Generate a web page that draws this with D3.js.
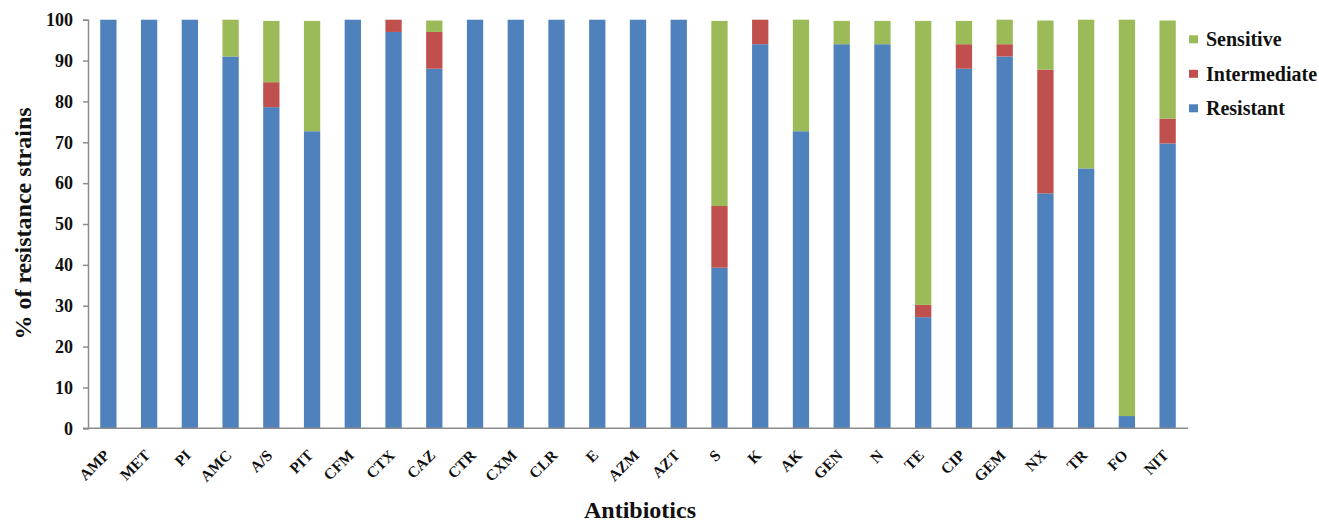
<!DOCTYPE html>
<html>
<head>
<meta charset="utf-8">
<script src="https://cdn.jsdelivr.net/npm/d3@7"></script>
<style>
  html, body { margin: 0; padding: 0; background: #fff; }
  svg { display: block; }
  text { font-family: "Liberation Serif", "Times New Roman", serif; font-weight: bold; fill: #111; }
</style>
</head>
<body>
<svg id="chart" width="1319" height="525"></svg>
<script>
const categories = ["AMP","MET","PI","AMC","A/S","PIT","CFM","CTX","CAZ","CTR","CXM","CLR","E","AZM","AZT","S","K","AK","GEN","N","TE","CIP","GEM","NX","TR","FO","NIT"];
const resistant    = [100,100,100,91,78.6,72.7,100,97,88,100,100,100,100,100,100,39.3,94,72.7,94,94,27.2,88,91,57.5,63.6,3,69.7];
const intermediate = [0,0,0,0,6.1,0,0,3,9,0,0,0,0,0,0,15.1,6,0,0,0,3,6,3,30.3,0,0,6.1];
const sensitive    = [0,0,0,9,15,27,0,0,2.8,0,0,0,0,0,0,45.3,0,27.3,5.7,5.7,69.5,5.7,6,12,36.4,97,24];
const yTicks = [0,10,20,30,40,50,60,70,80,90,100];
const seriesNames = ["Resistant","Intermediate","Sensitive"];
const colors = {Resistant:"#4F81BD", Intermediate:"#C0504D", Sensitive:"#9BBB59"};

const table = categories.map((c,i)=>({cat:c, Resistant:resistant[i], Intermediate:intermediate[i], Sensitive:sensitive[i]}));

const svg = d3.select("#chart");
const mLeft = 88, mRight = 1188, mTop = 19.7, mBottom = 428.3;

const x = d3.scaleBand().domain(categories).range([mLeft,mRight]).paddingInner(0.6).paddingOuter(0.3);
const y = d3.scaleLinear().domain([0,100]).range([mBottom,mTop]);

const stack = d3.stack().keys(seriesNames);
const layers = stack(table);

svg.append("g").selectAll("g").data(layers).join("g")
  .attr("fill", d=>colors[d.key])
  .selectAll("rect").data(d=>d).join("rect")
  .attr("x", d=>x(d.data.cat))
  .attr("width", x.bandwidth())
  .attr("y", d=>y(d[1]))
  .attr("height", d=>Math.max(0, y(d[0])-y(d[1])));

// y axis
const yAxis = svg.append("g").attr("transform",`translate(${mLeft},0)`)
  .call(d3.axisLeft(y).tickValues(yTicks).tickSize(5).tickPadding(10));
yAxis.select(".domain").attr("stroke","#8c8c8c").attr("stroke-width",1.5);
yAxis.selectAll(".tick line").attr("stroke","#8c8c8c").attr("stroke-width",1.5);
yAxis.selectAll("text").style("font-size","18px").attr("fill","#222");

// x axis
const xAxis = svg.append("g").attr("transform",`translate(0,${mBottom})`)
  .call(d3.axisBottom(x).tickSize(0).tickPadding(0));
xAxis.select(".domain").attr("stroke","#8c8c8c").attr("stroke-width",1.5).attr("d",`M${mLeft-5},0H${mRight}`);
xAxis.selectAll(".tick text")
  .style("font-size","15.5px").attr("fill","#111")
  .attr("text-anchor","end")
  .attr("dy",null).attr("y",null)
  .attr("transform","translate(2,28) rotate(-45)");

// axis titles
svg.append("text").attr("x",640).attr("y",518).attr("text-anchor","middle")
  .style("font-size","24px").text("Antibiotics");
svg.append("text").attr("transform","translate(31,223.5) rotate(-90)").attr("text-anchor","middle")
  .style("font-size","24px").text("% of resistance strains");

// legend
const legendItems = ["Sensitive","Intermediate","Resistant"];
const lg = svg.append("g").selectAll("g").data(legendItems).join("g")
  .attr("transform",(d,i)=>`translate(1189,${39.3 + i*34.5})`);
lg.append("rect").attr("x",0).attr("y",-4).attr("width",9).attr("height",8).attr("fill",d=>colors[d]);
lg.append("text").attr("x",17).attr("y",0).attr("dy","0.35em").style("font-size","20px").text(d=>d);
</script>
</body>
</html>
